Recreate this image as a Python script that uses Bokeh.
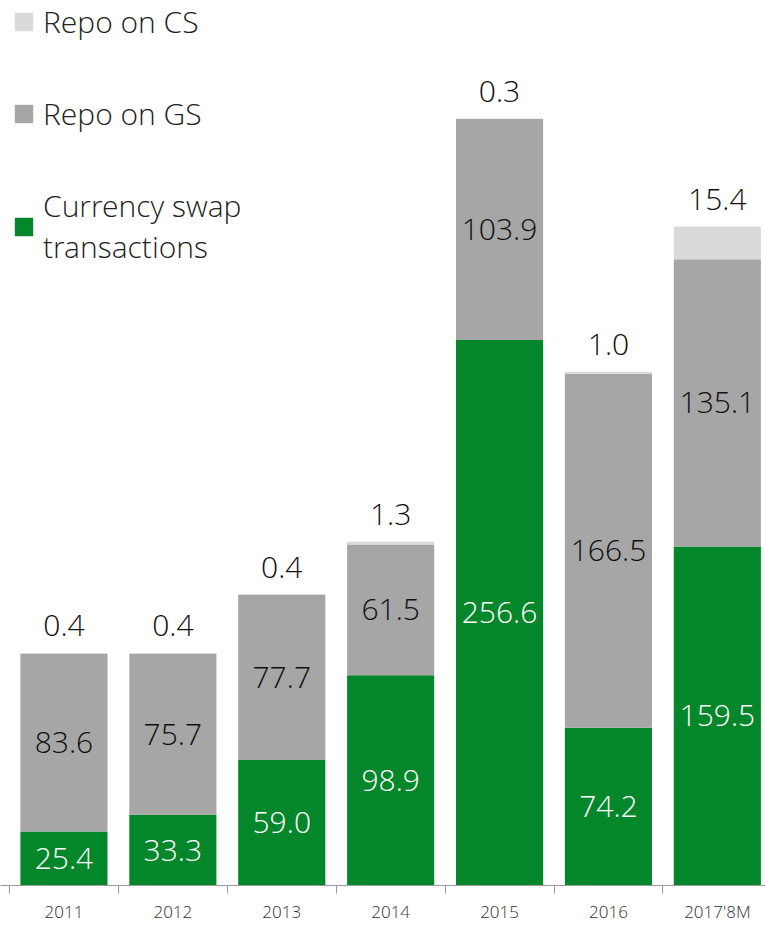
from bokeh.plotting import figure
from bokeh.models import (ColumnDataSource, Range1d, FixedTicker, Legend, LegendItem)
from bokeh.core.properties import value
from bokeh.embed import file_html
from bokeh.resources import INLINE

years = ["2011", "2012", "2013", "2014", "2015", "2016", "2017'8M"]
swap = [25.4, 33.3, 59.0, 98.9, 256.6, 74.2, 159.5]
repo_gs = [83.6, 75.7, 77.7, 61.5, 103.9, 166.5, 135.1]
repo_cs = [0.4, 0.4, 0.4, 1.3, 0.3, 1.0, 15.4]

GREEN = "#04862A"
GRAY = "#A6A6A6"
LIGHT = "#D9D9D9"
FONT = "Open Sans Light"

xs = list(range(len(years)))
totals = [a + b + c for a, b, c in zip(swap, repo_gs, repo_cs)]

src = ColumnDataSource(dict(
    x=xs, swap=swap, gs=repo_gs, cs=repo_cs,
    swap_mid=[s / 2 for s in swap],
    gs_mid=[s + g / 2 for s, g in zip(swap, repo_gs)],
    total=totals,
    swap_lbl=[f"{v:.1f}" for v in swap],
    gs_lbl=[f"{v:.1f}" for v in repo_gs],
    cs_lbl=[f"{v:.1f}" for v in repo_cs],
))

W, H = 765, 925
cat_px = 108.9
x0 = -0.5 - 9 / cat_px
p = figure(width=W, height=H, output_backend="svg", toolbar_location=None,
           x_range=Range1d(x0, x0 + W / cat_px), y_range=Range1d(0, 416.3),
           min_border_left=0, min_border_right=0, min_border_top=0, min_border_bottom=40)
p.outline_line_color = None
p.xgrid.visible = False
p.ygrid.visible = False
p.yaxis.visible = False
p.background_fill_color = "white"
p.border_fill_color = "white"

rs = p.vbar_stack(["swap", "gs", "cs"], x="x", width=0.8, source=src,
                  color=[GREEN, GRAY, LIGHT], line_color=None)

ax = p.xaxis[0]
ax.ticker = FixedTicker(ticks=xs, minor_ticks=[i - 0.5 for i in range(len(years) + 1)])
ax.major_label_overrides = {i: y for i, y in zip(xs, years)}
ax.major_tick_line_color = None
ax.major_tick_out = 0
ax.major_tick_in = 0
ax.minor_tick_line_color = "#9A9A9A"
ax.minor_tick_out = 8
ax.minor_tick_in = 0
ax.axis_line_color = "#9A9A9A"
ax.axis_line_width = 1
ax.major_label_text_font = FONT
ax.major_label_text_font_size = "17px"
ax.major_label_text_color = "#333333"
ax.major_label_standoff = 6

lbl_font = value(FONT)
p.text(x="x", y="swap_mid", text="swap_lbl", source=src, text_font=lbl_font,
       text_font_size="30px", text_color="white", text_align="center",
       text_baseline="middle")
p.text(x="x", y="gs_mid", text="gs_lbl", source=src, text_font=lbl_font,
       text_font_size="30px", text_color="#111111", text_align="center",
       text_baseline="middle")
p.text(x="x", y="total", text="cs_lbl", source=src, text_font=lbl_font,
       text_font_size="30px", text_color="#111111", text_align="center",
       text_baseline="middle", y_offset=-27)

legend = Legend(items=[
    LegendItem(label="Repo on CS", renderers=[rs[2]]),
    LegendItem(label="Repo on GS", renderers=[rs[1]]),
    LegendItem(label="Currency swap\ntransactions", renderers=[rs[0]]),
], location=(12, 618), margin=0, padding=13, spacing=51,
    glyph_width=23, glyph_height=23, label_standoff=8,
    label_text_font=FONT, label_text_font_size="30px", label_text_color="#222222",
    label_text_line_height=1.05,
    border_line_color=None, background_fill_alpha=0)
p.add_layout(legend)

open("out.html", "w").write(file_html(p, INLINE))
